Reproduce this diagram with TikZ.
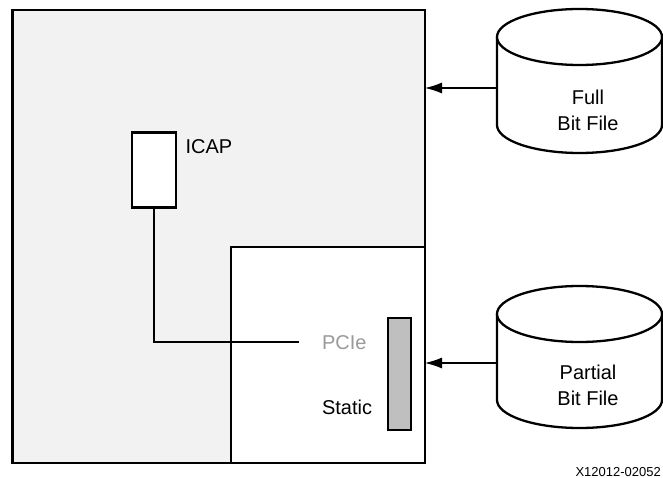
\documentclass[tikz,border=0pt]{standalone}
\usepackage{fontspec}
\setmainfont{Liberation Sans}
\usetikzlibrary{arrows.meta}
\definecolor{regiongray}{HTML}{F2F2F2}
\definecolor{bargray}{HTML}{BFBFBF}
\definecolor{pciegray}{HTML}{9A9A9A}
\begin{document}
\begin{tikzpicture}[x=1pt,y=-1pt,
  box/.style={draw=black, line width=2.3pt, inner sep=0pt, outer sep=0pt, anchor=north west},
  lbl/.style={inner sep=0pt, outer sep=0pt, font=\fontsize{20}{26}\selectfont},
  cyl/.style={draw=black, line width=2.3pt, fill=white},
  link/.style={draw=black, line width=1.1pt},
  feed/.style={draw=black, line width=1.1pt, -{Latex[length=17pt,width=11pt]}}
]
\useasboundingbox (0,0) rectangle (663,478);
% device regions
\node[box, fill=regiongray, minimum width=412.5pt, minimum height=453pt] (fpga) at (12.5,10) {};
\node[box, fill=white, minimum width=194pt, minimum height=216pt] (static) at (231,247) {};
% ICAP
\node[box, fill=white, minimum width=44pt, minimum height=75pt] (icap) at (132,132.5) {};
\node[lbl, anchor=west] (icaplbl) at (185.5,147) {ICAP};
% PCIe and static labels
\node[lbl, anchor=west, text=pciegray] (pcie) at (322,343) {PCIe};
\node[lbl, anchor=west] (staticlbl) at (322,407) {Static};
\node[box, fill=bargray, minimum width=23pt, minimum height=112pt] (bar) at (388,318) {};
\coordinate (pcieend) at (298.5,342);
\draw[link] (icap.south) |- (pcieend);
% full bit file cylinder
\draw[cyl] (497,37) -- (497,125) arc[start angle=180, end angle=360, x radius=82.5, y radius=-28] -- (662,37);
\draw[cyl] (579.5,37) ellipse[x radius=82.5, y radius=28];
\node[lbl, align=center] (full) at (588,110) {Full\\Bit File};
\coordinate (fullin) at (497,88);
% partial bit file cylinder
\draw[cyl] (497,314) -- (497,400) arc[start angle=180, end angle=360, x radius=82.5, y radius=-28] -- (662,314);
\draw[cyl] (579.5,314) ellipse[x radius=82.5, y radius=28];
\node[lbl, align=center] (partial) at (588,385) {Partial\\Bit File};
\coordinate (partin) at (497,363);
% arrows
\draw[feed] (fullin) -- (fullin -| fpga.east);
\draw[feed] (partin) -- (partin -| fpga.east);
% figure id
\node[inner sep=0pt, anchor=east, font=\fontsize{13}{15}\selectfont] (figid) at (661,472) {X12012-02052};
\end{tikzpicture}
\end{document}
